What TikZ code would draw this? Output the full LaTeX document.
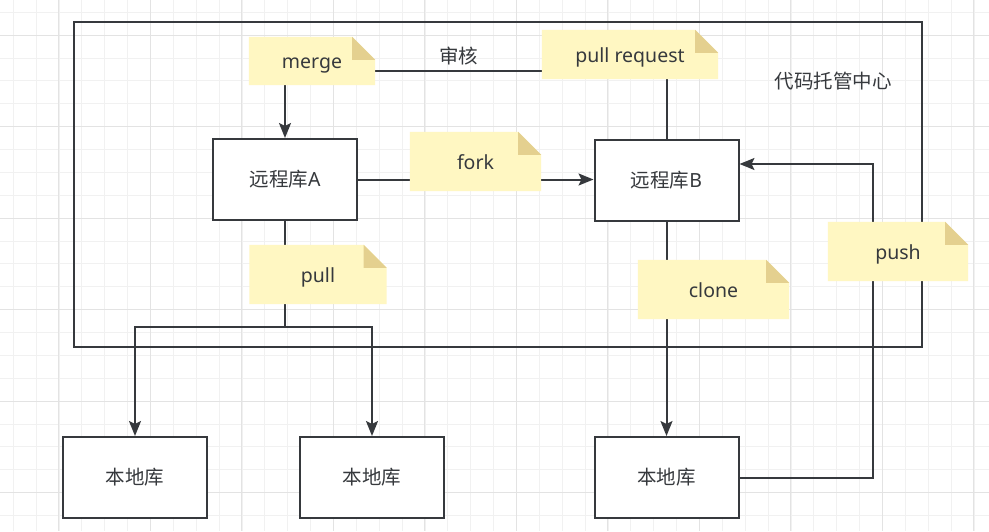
\documentclass[tikz,border=0pt]{standalone}
\usepackage{fontspec}
\setmainfont{Noto Sans}
\newfontfamily\cjk{Noto Sans CJK SC}
\usetikzlibrary{arrows.meta}
\pgfdeclarelayer{back}
\pgfsetlayers{back,main}
\definecolor{ink}{HTML}{36393D}
\definecolor{notefill}{HTML}{FFF7C2}
\definecolor{foldfill}{HTML}{E4D08F}
\definecolor{gridminor}{HTML}{F1F1F1}
\definecolor{gridmajor}{HTML}{E3E3E3}

\tikzset{
  repo/.style={draw=ink, line width=2pt, fill=white, minimum width=144pt, minimum height=81pt},
  note/.style 2 args={minimum width=#1, minimum height=#2, inner sep=0pt,
    text height=19pt, text depth=4pt,
    append after command={\pgfextra{
      \fill[notefill] (\tikzlastnode.south west) -- (\tikzlastnode.north west)
        -- ([xshift=-23pt]\tikzlastnode.north east) -- ([yshift=-23pt]\tikzlastnode.north east)
        -- (\tikzlastnode.south east) -- cycle;
      \fill[foldfill] ([xshift=-23pt]\tikzlastnode.north east)
        -- ([shift={(-23pt,-23pt)}]\tikzlastnode.north east)
        -- ([yshift=-23pt]\tikzlastnode.north east) -- cycle;}}},
  link/.style={draw=ink, line width=2pt},
  flow/.style={link, -{Stealth[length=15pt, width=12pt, inset=3pt]}}
}

\begin{document}
\begin{tikzpicture}[x=1pt, y=-1pt,
  every node/.style={font=\fontsize{19.5}{23}\selectfont, text=ink}]
  \useasboundingbox (0,0) rectangle (989,531);

  % grid
  \begin{pgfonlayer}{back}
    \fill[white] (0,0) rectangle (989,531);
    \foreach \i in {0,...,43}
      \draw[gridminor, line width=1pt] (13.3+22.875*\i,0) -- (13.3+22.875*\i,531);
    \foreach \j in {0,...,22}
      \draw[gridminor, line width=1pt] (0,12.3+22.875*\j) -- (989,12.3+22.875*\j);
    \foreach \i in {0,...,10}
      \draw[gridmajor, line width=1pt] (58.7+91.5*\i,0) -- (58.7+91.5*\i,531);
    \foreach \j in {0,...,5}
      \draw[gridmajor, line width=1pt] (0,35.3+91.5*\j) -- (989,35.3+91.5*\j);
  \end{pgfonlayer}

  % container
  \node[draw=ink, line width=2pt, minimum width=848pt, minimum height=325pt] (hub) at (498,184.5) {};
  \node (hublabel) at (833,81) {\cjk 代码托管中心};

  % repositories
  \node[repo] (repoA) at (285,179.5) {{\cjk 远程库}A};
  \node[repo] (repoB) at (666.5,180.5) {{\cjk 远程库}B};
  \node[repo] (local1) at (135,477.5) {\cjk 本地库};
  \node[repo] (local2) at (372,477.5) {\cjk 本地库};
  \node[repo] (local3) at (666.5,477.5) {\cjk 本地库};

  % notes
  \node[note={126pt}{48pt}] (merge) at (312,61) {merge};
  \node[note={176pt}{49pt}] (pullreq) at (630,54.5) {pull request};
  \node[note={131pt}{59pt}] (fork) at (475.5,161.5) {fork};
  \node[note={137pt}{59pt}] (pull) at (318,274.5) {pull};
  \node[note={151pt}{59pt}] (clone) at (713.5,289.5) {clone};
  \node[note={140pt}{59pt}] (push) at (898,251.5) {push};

  % connectors
  \begin{pgfonlayer}{back}
    \draw[flow] (repoA.north |- merge.south) -- (repoA.north);
    \draw[link] ([yshift=-10pt]merge.east) -- ([yshift=-10pt]merge.east -| pullreq.west)
      node[midway, above=2pt] {\cjk 审核};
    \draw[link] (repoB.north |- pullreq.south) -- (repoB.north);
    \draw[flow] (repoA.east) -- (repoA.east -| repoB.west);
    \coordinate (split) at (285,327);
    \draw[link] (repoA.south) -- (split);
    \draw[flow] (split) -| (local1.north);
    \draw[flow] (split) -| (local2.north);
    \draw[flow] (repoB.south) -- (local3.north);
    \coordinate (turn) at (873,164);
    \draw[flow] (local3.east) -| (turn) -- (turn -| repoB.east);
  \end{pgfonlayer}
\end{tikzpicture}
\end{document}
